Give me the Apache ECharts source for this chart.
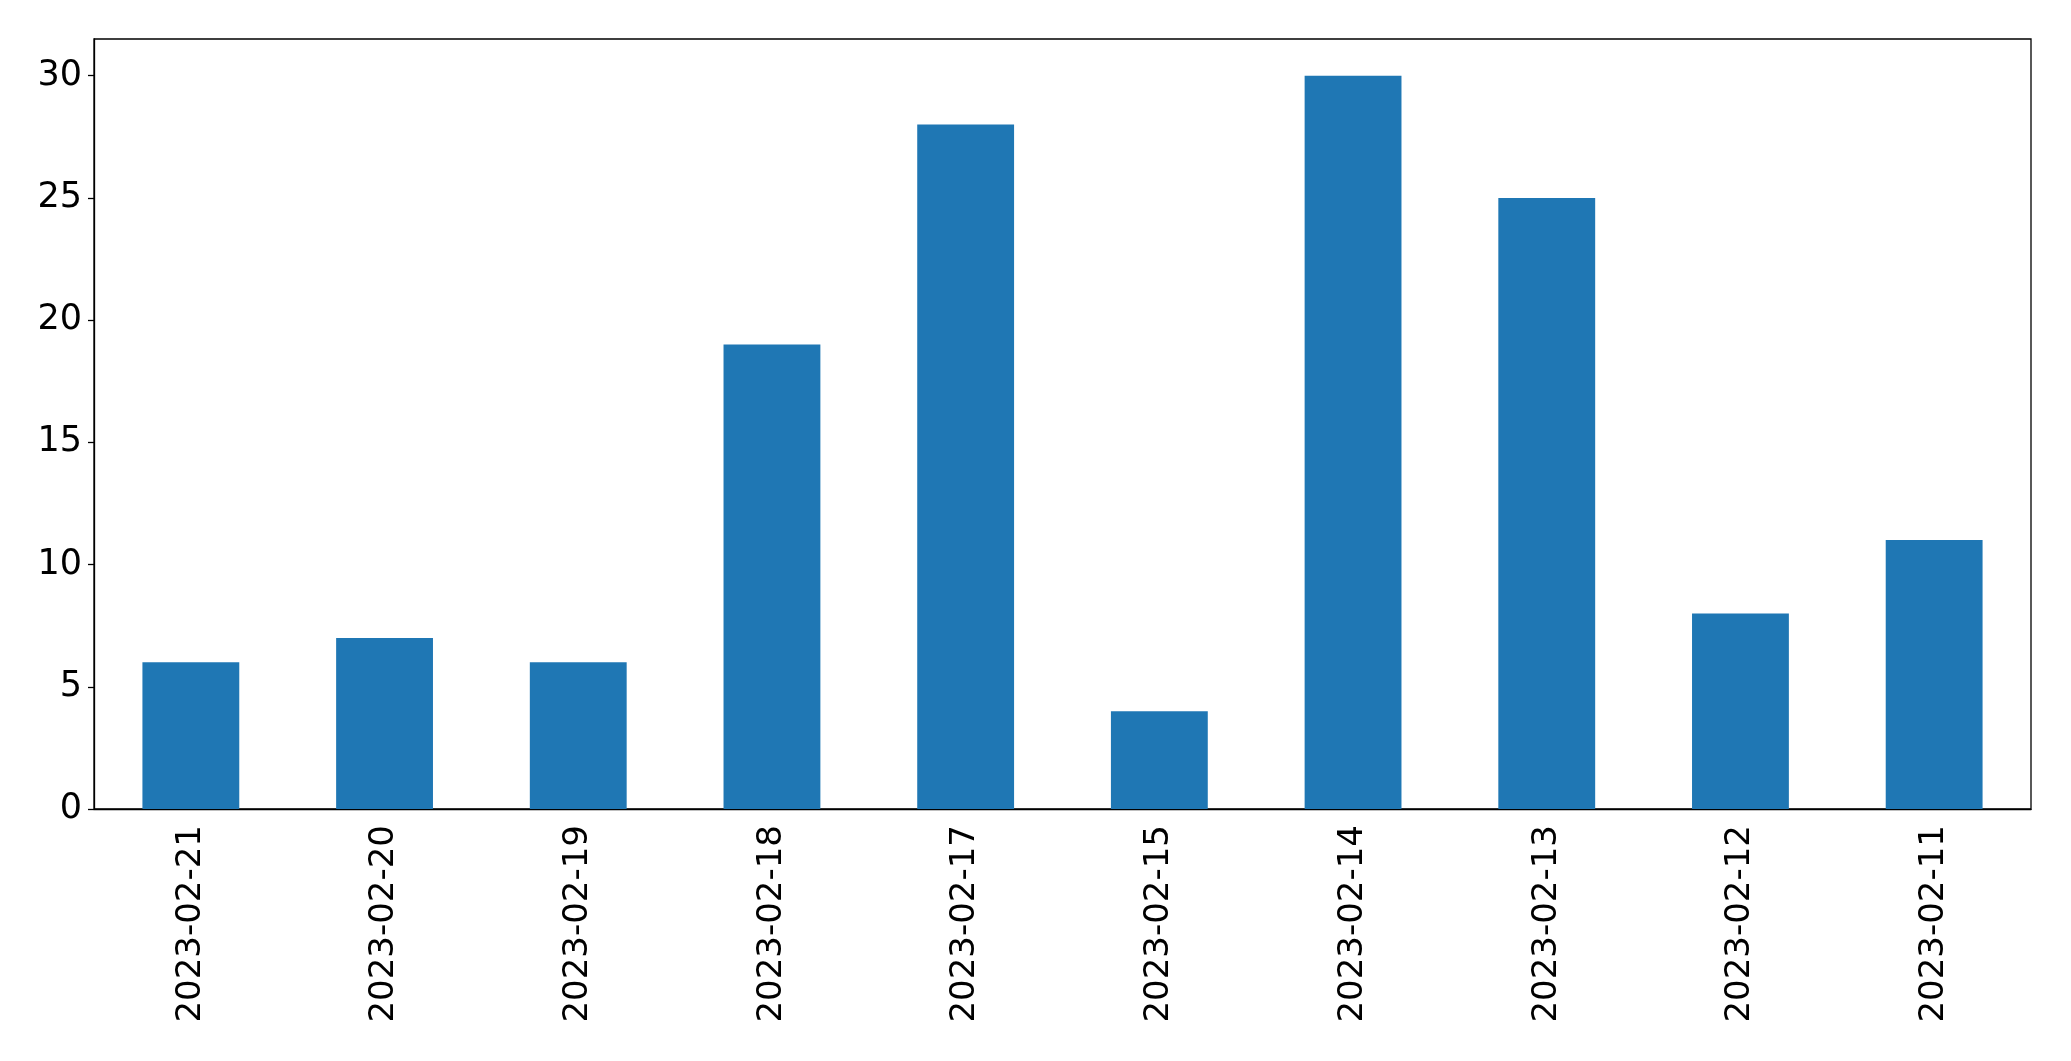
<!DOCTYPE html>
<html>
<head>
<meta charset="utf-8">
<script src="https://cdn.jsdelivr.net/npm/echarts@6/dist/echarts.min.js"></script>
<style>html,body{margin:0;padding:0;background:#fff;}#c{width:2071px;height:1061px;}</style>
</head>
<body>
<div id="c"></div>
<script>
const categories = ["2023-02-21","2023-02-20","2023-02-19","2023-02-18","2023-02-17","2023-02-15","2023-02-14","2023-02-13","2023-02-12","2023-02-11"];
const values = [6, 7, 6, 19, 28, 4, 30, 25, 8, 11];
const yTicks = [0, 5, 10, 15, 20, 25, 30];

const chart = echarts.init(document.getElementById('c'), null, {renderer: 'canvas'});
const font = 'DejaVu Sans';
chart.setOption({
  animation: false,
  backgroundColor: '#fff',
  grid: {left: 94, top: 39, right: 40, bottom: 252, show: true, borderColor: '#000', borderWidth: 1.3, containLabel: false},
  xAxis: {
    type: 'category',
    data: categories,
    boundaryGap: true,
    axisLine: {lineStyle: {color: '#000', width: 1.3}},
    axisTick: {alignWithLabel: true, length: 6, lineStyle: {color: '#000', width: 1.3}},
    axisLabel: {rotate: 90, color: '#000', fontFamily: font, fontSize: 34, margin: 16},
    splitLine: {show: false}
  },
  yAxis: {
    type: 'value',
    min: 0,
    max: 31.5,
    interval: 5,
    axisLine: {show: true, lineStyle: {color: '#000', width: 1.3}},
    axisTick: {show: true, length: 6, customValues: yTicks, lineStyle: {color: '#000', width: 1.3}},
    axisLabel: {color: '#000', fontFamily: font, fontSize: 35, margin: 12, customValues: yTicks},
    splitLine: {show: false}
  },
  series: [{
    type: 'bar',
    data: values,
    barWidth: '50%',
    itemStyle: {color: '#1f77b4'}
  }]
});
</script>
</body>
</html>
